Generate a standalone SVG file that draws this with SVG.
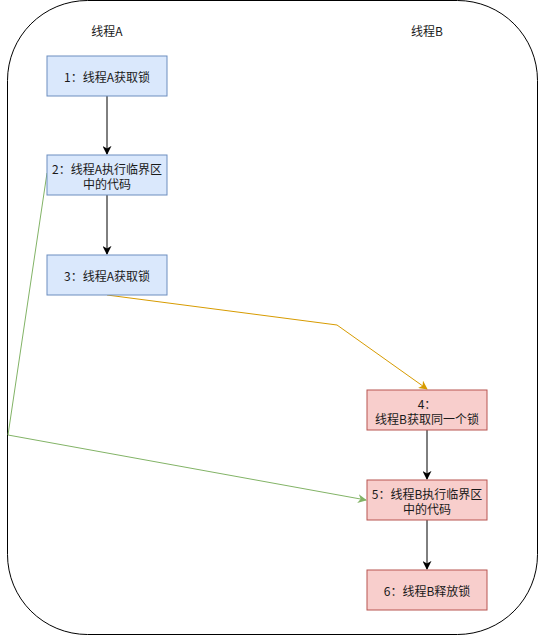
<svg xmlns="http://www.w3.org/2000/svg" width="538" height="636" viewBox="0 0 538 636">
<defs>
<style>
.t{font-family:"Microsoft YaHei","Noto Sans CJK SC","Liberation Sans",sans-serif;font-size:12px;fill:#1a1a1a;text-anchor:middle;dominant-baseline:central}
.a{fill:#dae8fc;stroke:#6c8ebf;stroke-width:1}
.b{fill:#f8cecc;stroke:#b85450;stroke-width:1}
.e{fill:none;stroke-width:1}
</style>
<marker id="mk" viewBox="0 0 10 10" refX="9" refY="5" markerWidth="9" markerHeight="9" markerUnits="userSpaceOnUse" orient="auto">
<path d="M0,0 L10,5 L0,10 L3,5 Z" fill="#000"/>
</marker>
<marker id="mo" viewBox="0 0 10 10" refX="9" refY="5" markerWidth="9" markerHeight="9" markerUnits="userSpaceOnUse" orient="auto">
<path d="M0,0 L10,5 L0,10 L3,5 Z" fill="#d79b00"/>
</marker>
<marker id="mg" viewBox="0 0 10 10" refX="9" refY="5" markerWidth="9" markerHeight="9" markerUnits="userSpaceOnUse" orient="auto">
<path d="M0,0 L10,5 L0,10 L3,5 Z" fill="#82b366"/>
</marker>
</defs>
<rect width="538" height="636" fill="#fff"/>
<g id="container">
<rect x="7.5" y="0.5" width="530" height="634" rx="80" ry="80" fill="none" stroke="#000"/>
<text class="t" x="107" y="30">线程A</text>
<text class="t" x="427" y="30">线程B</text>
</g>
<g id="connectors">
<path class="e" d="M107,96 L107,154" stroke="#000" marker-end="url(#mk)"/>
<path class="e" d="M107,195 L107,254" stroke="#000" marker-end="url(#mk)"/>
<path class="e" d="M107,295 L337,325 L427,389" stroke="#d79b00" marker-end="url(#mo)"/>
<path class="e" d="M427,430 L427,479" stroke="#000" marker-end="url(#mk)"/>
<path class="e" d="M427,520 L427,569" stroke="#000" marker-end="url(#mk)"/>
<path class="e" d="M47,173 L8,435 L366,500" stroke="#82b366" marker-end="url(#mg)"/>
</g>
<g id="n1">
<rect class="a" x="47" y="56" width="120" height="40"/>
<text class="t" x="107" y="76">1：线程A获取锁</text>
</g>
<g id="n2">
<rect class="a" x="47" y="155" width="120" height="40"/>
<text class="t" x="107" y="168">2：线程A执行临界区<tspan x="107" dy="15">中的代码</tspan></text>
</g>
<g id="n3">
<rect class="a" x="47" y="255" width="120" height="40"/>
<text class="t" x="107" y="275">3：线程A获取锁</text>
</g>
<g id="n4">
<rect class="b" x="367" y="390" width="120" height="40"/>
<text class="t" x="427" y="403">4：<tspan x="427" dy="15">线程B获取同一个锁</tspan></text>
</g>
<g id="n5">
<rect class="b" x="367" y="480" width="120" height="40"/>
<text class="t" x="427" y="493">5：线程B执行临界区<tspan x="427" dy="15">中的代码</tspan></text>
</g>
<g id="n6">
<rect class="b" x="367" y="570" width="120" height="40"/>
<text class="t" x="427" y="590">6：线程B释放锁</text>
</g>
</svg>
